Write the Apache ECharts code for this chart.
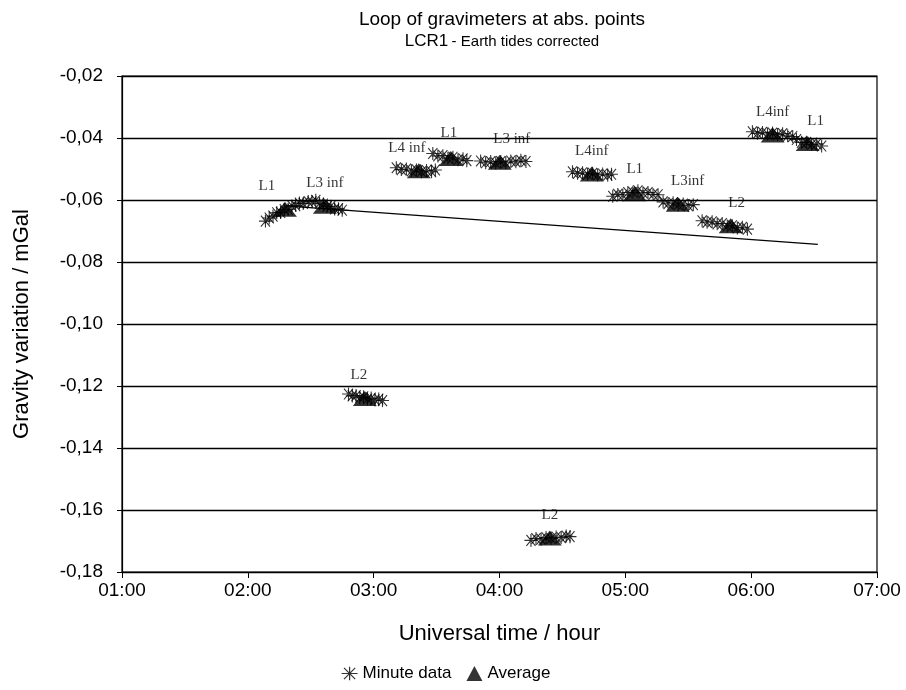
<!DOCTYPE html>
<html>
<head>
<meta charset="utf-8">
<script src="https://cdn.jsdelivr.net/npm/echarts@6/dist/echarts.min.js"></script>
<style>html,body{margin:0;padding:0;background:#fff}#c{width:906px;height:690px}</style>
</head>
<body>
<div id="c"></div>
<script>
// Average values (time in decimal hours, gravity variation in mGal)
const avgTimes  = [2.295, 2.612, 2.930, 3.359, 3.613, 4.002, 4.400, 4.733, 5.075, 5.416, 5.837, 6.171, 6.449];
const avgValues = [-0.0630, -0.0620, -0.1240, -0.0506, -0.0466, -0.0478, -0.1690, -0.0516, -0.0580, -0.0614, -0.0683, -0.0390, -0.0418];
const avgLabels = ['L1', 'L3 inf', 'L2', 'L4 inf', 'L1', 'L3 inf', 'L2', 'L4inf', 'L1', 'L3inf', 'L2', 'L4inf', 'L1'];

// Minute data (time, value)
const minuteTimes = [
  2.14, 2.17, 2.20, 2.23, 2.26, 2.29, 2.32, 2.35, 2.38, 2.41, 2.44,
  2.48, 2.51, 2.54, 2.57, 2.60, 2.63, 2.66, 2.69, 2.72, 2.75,
  2.80, 2.83, 2.86, 2.89, 2.92, 2.95, 2.98, 3.01, 3.04, 3.07,
  3.18, 3.22, 3.26, 3.30, 3.34, 3.38, 3.42, 3.46, 3.49,
  3.47, 3.51, 3.55, 3.59, 3.63, 3.67, 3.71, 3.74,
  3.85, 3.89, 3.93, 3.97, 4.01, 4.05, 4.09, 4.13, 4.17, 4.21,
  4.25, 4.29, 4.33, 4.37, 4.41, 4.45, 4.49, 4.53, 4.56,
  4.58, 4.62, 4.66, 4.70, 4.74, 4.78, 4.82, 4.86, 4.89,
  4.90, 4.94, 4.98, 5.02, 5.06, 5.10, 5.14, 5.18, 5.22, 5.26,
  5.30, 5.34, 5.38, 5.42, 5.46, 5.50, 5.54,
  5.61, 5.65, 5.69, 5.73, 5.77, 5.81, 5.85, 5.89, 5.93, 5.97,
  6.01, 6.05, 6.09, 6.13, 6.17, 6.21, 6.25, 6.29, 6.33,
  6.36, 6.40, 6.44, 6.48, 6.52, 6.56
];
const minuteValues = [
  -0.0668, -0.0658, -0.0652, -0.0641, -0.0640, -0.0631, -0.0630, -0.0619, -0.0618, -0.0610, -0.0611,
  -0.0605, -0.0606, -0.0601, -0.0611, -0.0613, -0.0621, -0.0620, -0.0629, -0.0628, -0.0633,
  -0.1226, -0.1232, -0.1231, -0.1238, -0.1235, -0.1242, -0.1239, -0.1245, -0.1242, -0.1247,
  -0.0496, -0.0502, -0.0500, -0.0506, -0.0503, -0.0509, -0.0505, -0.0509, -0.0503,
  -0.0450, -0.0458, -0.0457, -0.0465, -0.0462, -0.0470, -0.0467, -0.0473,
  -0.0474, -0.0480, -0.0476, -0.0481, -0.0476, -0.0480, -0.0474, -0.0477, -0.0472, -0.0476,
  -0.1698, -0.1692, -0.1694, -0.1689, -0.1692, -0.1687, -0.1689, -0.1684, -0.1686,
  -0.0509, -0.0514, -0.0512, -0.0517, -0.0514, -0.0519, -0.0516, -0.0520, -0.0517,
  -0.0588, -0.0582, -0.0584, -0.0576, -0.0575, -0.0570, -0.0577, -0.0576, -0.0582, -0.0583,
  -0.0606, -0.0612, -0.0609, -0.0616, -0.0613, -0.0618, -0.0615,
  -0.0667, -0.0672, -0.0670, -0.0677, -0.0676, -0.0684, -0.0683, -0.0690, -0.0688, -0.0694,
  -0.0380, -0.0385, -0.0382, -0.0387, -0.0384, -0.0389, -0.0386, -0.0393, -0.0395,
  -0.0405, -0.0414, -0.0414, -0.0421, -0.0419, -0.0426
];

// Drift line end points
const driftTimes  = [2.30, 6.53];
const driftValues = [-0.0619, -0.0743];

// Axis
const yMin = -0.18, yMax = -0.02, yStep = 0.02;
const xMin = 1, xMax = 7, xStep = 1;

const labelOffsets = [[-18,-4],[0,-4],[-6,-4],[-12,-4],[-2,-6],[12,-4],[0,-4],[0,-4],[0,-6],[10,-4],[6,-4],[0,-4],[8,-4]];

const chart = echarts.init(document.getElementById('c'), null, {renderer: 'canvas'});
const ff = '"Liberation Sans", Arial, sans-serif';
const serif = '"Liberation Serif", "Times New Roman", serif';

const starPath = 'path://M-6,0L6,0M-4.2,-4.2L4.2,4.2M-4.2,4.2L4.2,-4.2M0,-5L0,5';

chart.setOption({
  animation: false,
  backgroundColor: '#fff',
  title: {
    text: 'Loop of gravimeters at abs. points',
    subtext: '{a|LCR1} {b|- Earth tides corrected}',
    left: 497, textAlign: 'center', top: 5,
    itemGap: 4,
    textStyle: {fontFamily: ff, fontSize: 19, fontWeight: 'normal', color: '#000'},
    subtextStyle: {
      rich: {
        a: {fontFamily: ff, fontSize: 17, color: '#000'},
        b: {fontFamily: ff, fontSize: 15, color: '#000'}
      }
    }
  },
  legend: {
    bottom: 3, left: 336,
    itemGap: 15, itemWidth: 16, itemHeight: 15,
    textStyle: {fontFamily: ff, fontSize: 17, color: '#000'},
    data: [
      {name: 'Minute data', icon: starPath, itemStyle: {color: 'transparent', borderColor: '#000', borderWidth: 1.2}},
      {name: 'Average', icon: 'triangle', itemStyle: {color: '#000'}}
    ]
  },
  grid: {left: 122, right: 29, top: 76, bottom: 118, show: true, borderColor: '#000', borderWidth: 1.2},
  xAxis: {
    type: 'value', min: xMin, max: xMax, interval: xStep,
    name: 'Universal time / hour', nameLocation: 'middle', nameGap: 51,
    nameTextStyle: {fontFamily: ff, fontSize: 22, color: '#000'},
    axisLine: {show: true, lineStyle: {color: '#000', width: 1.2}},
    axisTick: {show: true, length: 6, lineStyle: {color: '#000'}},
    splitLine: {show: false},
    axisLabel: {
      fontFamily: ff, fontSize: 19, color: '#000', margin: 9,
      formatter: v => (v < 10 ? '0' : '') + Math.round(v) + ':00'
    }
  },
  yAxis: {
    type: 'value', min: yMin, max: yMax, interval: yStep,
    name: 'Gravity variation / mGal', nameLocation: 'middle', nameGap: 89,
    nameTextStyle: {fontFamily: ff, fontSize: 22, color: '#000'},
    axisLine: {show: true, lineStyle: {color: '#000', width: 1.2}},
    axisTick: {show: true, length: 5, lineStyle: {color: '#000'}},
    splitLine: {show: true, lineStyle: {color: '#000', width: 1.3}},
    axisLabel: {
      fontFamily: ff, fontSize: 19, color: '#000', margin: 19,
      formatter: v => v.toFixed(2).replace('.', ',')
    }
  },
  series: [
    {
      name: 'Drift', type: 'line', symbol: 'none', silent: true,
      data: driftTimes.map((t, i) => [t, driftValues[i]]),
      lineStyle: {color: '#000', width: 1.4}, z: 1
    },
    {
      name: 'Minute data', type: 'scatter',
      symbol: starPath, symbolSize: 13,
      itemStyle: {color: 'transparent', borderColor: '#000', borderWidth: 1.1},
      data: minuteTimes.map((t, i) => [t, minuteValues[i]]), z: 2
    },
    {
      name: 'Average', type: 'scatter',
      symbol: 'triangle', symbolSize: [24, 15],
      itemStyle: {color: '#000'},
      data: avgTimes.map((t, i) => ({
        value: [t, avgValues[i]],
        label: {offset: labelOffsets[i]}
      })),
      label: {
        show: true, position: 'top', distance: 4,
        fontFamily: serif, fontSize: 15, color: '#000',
        formatter: p => avgLabels[p.dataIndex]
      },
      z: 3
    }
  ]
});
</script>
</body>
</html>
